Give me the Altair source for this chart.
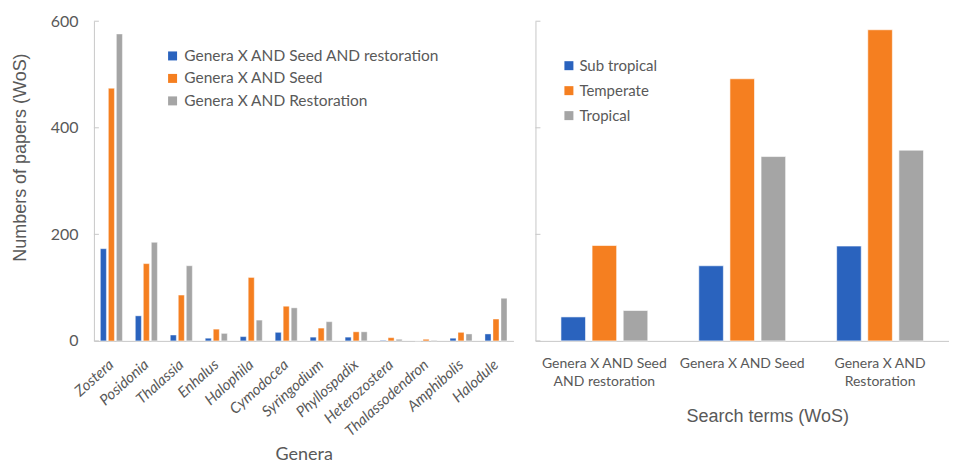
import altair as alt
import pandas as pd

# ---- data: left panel (by genus) ----
genera = ["Zostera", "Posidonia", "Thalassia", "Enhalus", "Halophila", "Cymodocea",
          "Syringodium", "Phyllospadix", "Heterozostera", "Thalassodendron",
          "Amphibolis", "Halodule"]
seed_and_restoration = [173, 47, 11, 5, 8, 16, 7, 7, 1, 0, 5, 13]
seed_only = [474, 145, 86, 22, 119, 65, 24, 17, 6, 3, 16, 41]
restoration_only = [576, 185, 141, 14, 39, 62, 36, 17, 3, 1, 13, 80]
left_series = ["Genera X AND Seed AND restoration", "Genera X AND Seed",
               "Genera X AND Restoration"]

# ---- data: right panel (by search term) ----
terms = ["Genera X AND Seed AND restoration", "Genera X AND Seed",
         "Genera X AND Restoration"]
sub_tropical = [45, 141, 178]
temperate = [179, 492, 584]
tropical = [57, 346, 358]
right_series = ["Sub tropical", "Temperate", "Tropical"]

tick_values = [0, 200, 400, 600]
palette = ["#2a63be", "#f57f20", "#a5a5a5"]

GREY_TXT = "#595959"
AXIS_COL = "#c8c8c8"
FONT = "Lato"

rows = []
for s, vals in zip(left_series, [seed_and_restoration, seed_only, restoration_only]):
    for g, v in zip(genera, vals):
        rows.append({"genus": g, "series": s, "count": v})
df_left = pd.DataFrame(rows)

rows = []
for s, vals in zip(right_series, [sub_tropical, temperate, tropical]):
    for t, v in zip(terms, vals):
        rows.append({"term": t, "series": s, "count": v})
df_right = pd.DataFrame(rows)

df_ticks = pd.DataFrame({"count": tick_values})

# ---- left chart ----
left_bars = alt.Chart(df_left).mark_bar(stroke="white", strokeWidth=0.4).encode(
    x=alt.X("genus:N", sort=genera,
            scale=alt.Scale(paddingInner=0.37, paddingOuter=0.185),
            axis=alt.Axis(title="Genera", labelAngle=-42, labelAlign="right",
                          labelBaseline="middle", labelPadding=21,
                          labelFont=FONT, labelFontStyle="italic", labelFontSize=15,
                          labelColor=GREY_TXT, ticks=False, domainColor=AXIS_COL,
                          titleFont=FONT, titleFontSize=18, titleFontWeight="normal",
                          titleColor=GREY_TXT, titleY=114,
                          titleBaseline="middle", titleAlign="center")),
    xOffset=alt.XOffset("series:N", sort=left_series,
                        scale=alt.Scale(paddingInner=0.25)),
    y=alt.Y("count:Q", scale=alt.Scale(domain=[0, 600], nice=False),
            axis=alt.Axis(title="Numbers of papers (WoS)", values=tick_values,
                          grid=False, ticks=False, labelPadding=16,
                          labelFont=FONT, labelFontSize=16, labelColor=GREY_TXT,
                          domainColor=AXIS_COL,
                          titleFont="Liberation Sans", titleFontSize=18,
                          titleFontWeight="normal", titleColor=GREY_TXT,
                          titleX=-73, titleY=136, titleAngle=-90,
                          titleAlign="center", titleBaseline="middle")),
    color=alt.Color("series:N", sort=left_series,
                    scale=alt.Scale(domain=left_series, range=palette),
                    legend=alt.Legend(orient="none", legendX=71, legendY=27,
                                      title=None, symbolType="square", symbolSize=81,
                                      symbolStrokeWidth=0, labelFont=FONT,
                                      labelFontSize=15.5, labelColor=GREY_TXT,
                                      labelLimit=400,
                                      rowPadding=5.5, labelOffset=4, padding=0)),
)
left_ticks = alt.Chart(df_ticks).mark_rule(color=AXIS_COL, strokeWidth=1).encode(
    y=alt.Y("count:Q"), x=alt.value(0), x2=alt.value(5))
left = alt.layer(left_bars, left_ticks).properties(width=420, height=320)

# ---- right chart ----
label_expr = ("datum.label == 'Genera X AND Seed AND restoration' ? "
              "['Genera X AND Seed', 'AND restoration'] : "
              "datum.label == 'Genera X AND Restoration' ? "
              "['Genera X AND', 'Restoration'] : datum.label")

right_bars = alt.Chart(df_right).mark_bar(stroke="white", strokeWidth=0.6).encode(
    x=alt.X("term:N", sort=terms,
            scale=alt.Scale(paddingInner=0.37, paddingOuter=0.185),
            axis=alt.Axis(title="Search terms (WoS)", labelAngle=0,
                          labelExpr=label_expr, labelAlign="center",
                          labelBaseline="top", labelPadding=16, labelLineHeight=18,
                          labelFont=FONT, labelFontSize=14, labelColor=GREY_TXT,
                          ticks=False, domainColor=AXIS_COL,
                          titleFont="Liberation Sans", titleFontSize=18,
                          titleFontWeight="normal", titleColor=GREY_TXT,
                          titleX=232, titleY=76, titleBaseline="middle",
                          titleAlign="center")),
    xOffset=alt.XOffset("series:N", sort=right_series,
                        scale=alt.Scale(paddingInner=0.21)),
    y=alt.Y("count:Q", scale=alt.Scale(domain=[0, 600], nice=False),
            axis=alt.Axis(title=None, values=tick_values, labels=False, grid=False,
                          ticks=False, domainColor=AXIS_COL)),
    color=alt.Color("series:N", sort=right_series,
                    scale=alt.Scale(domain=right_series, range=palette),
                    legend=alt.Legend(orient="none", legendX=26, legendY=37,
                                      title=None, symbolType="square", symbolSize=81,
                                      symbolStrokeWidth=0, labelFont=FONT,
                                      labelFontSize=15, labelColor=GREY_TXT,
                                      labelLimit=400,
                                      rowPadding=9, labelOffset=3, padding=0)),
)
right_ticks = alt.Chart(df_ticks).mark_rule(color=AXIS_COL, strokeWidth=1).encode(
    y=alt.Y("count:Q"), x=alt.value(0), x2=alt.value(5))
right = alt.layer(right_bars, right_ticks).properties(width=414, height=320)

chart = alt.hconcat(left, right, spacing=22, bounds="flush").resolve_scale(
    color="independent", x="independent", xOffset="independent"
).properties(
    padding={"left": 3, "top": 5, "right": 0, "bottom": 0},
    background="white",
).configure_view(stroke=None)

chart.save("out.html", embed_options={"renderer": "svg", "actions": False})
